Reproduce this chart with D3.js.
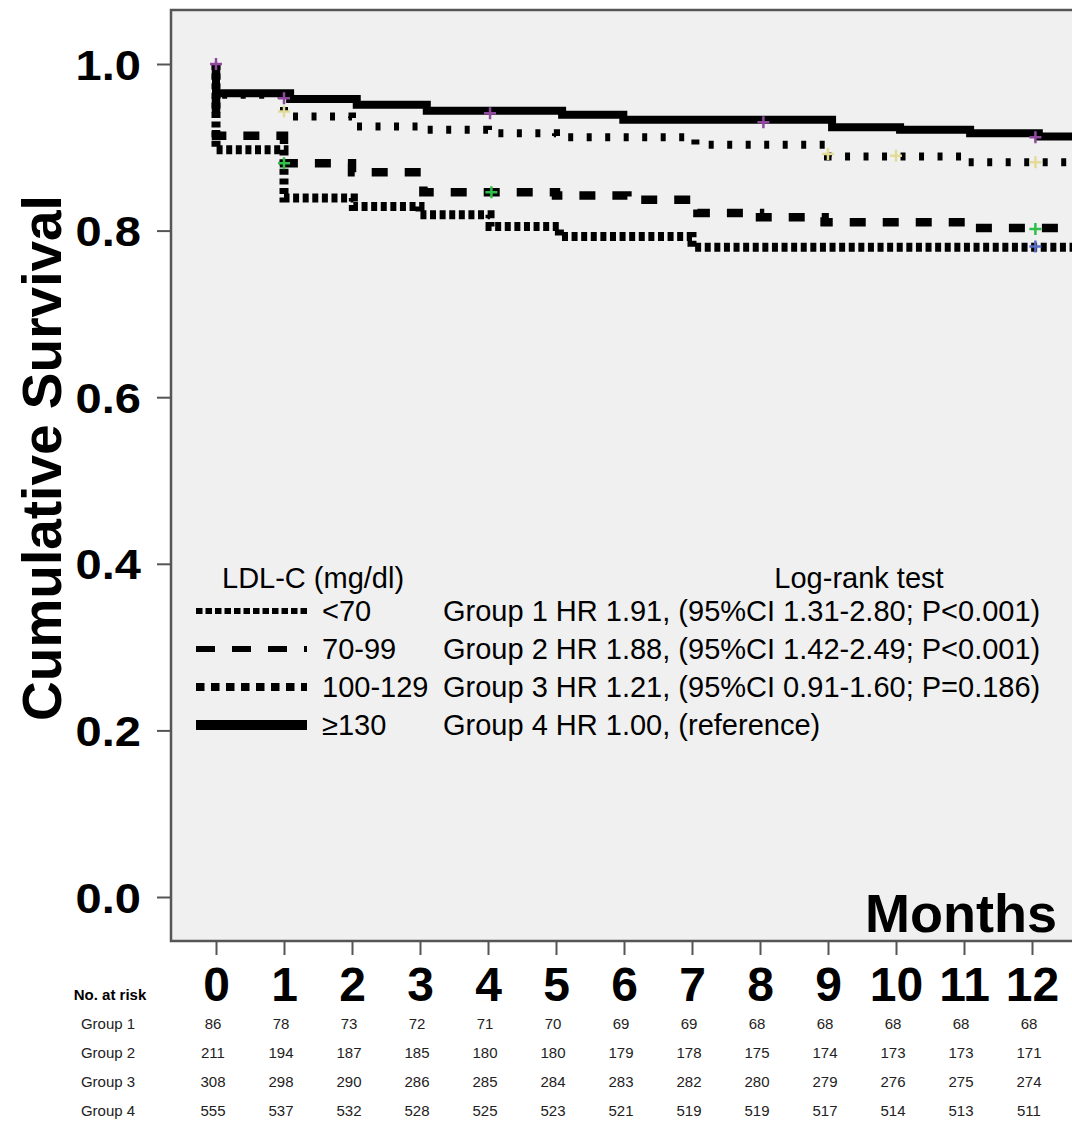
<!DOCTYPE html>
<html>
<head>
<meta charset="utf-8">
<script src="https://cdn.jsdelivr.net/npm/d3@7"></script>
<style>
body{margin:0;background:#fff}
text{font-family:"Liberation Sans",Arial,Helvetica,sans-serif}
</style>
</head>
<body>
<svg id="chart" width="1072" height="1124"></svg>
<script>
var months=[0,1,2,3,4,5,6,7,8,9,10,11,12]
var yTicks=[0,0.2,0.4,0.6,0.8,1.0]
var groupNames=["Group 1","Group 2","Group 3","Group 4"]
var ldlLabels=["<70","70-99","100-129","\u2265130"]
var hrTexts=["Group 1 HR 1.91, (95%CI 1.31-2.80; P<0.001)",
             "Group 2 HR 1.88, (95%CI 1.42-2.49; P<0.001)",
             "Group 3 HR 1.21, (95%CI 0.91-1.60; P=0.186)",
             "Group 4 HR 1.00, (reference)"]

// step times (months) and survival right after each step
var g1Times=[0,1.0,2.02,3.0,4.03,5.05,7.0]
var g1Surv=[0.897,0.839,0.829,0.819,0.805,0.793,0.780]
var g2Times=[0,1.0,2.0,3.05,5.0,6.05,7.08,8.0,8.95,11.05]
var g2Surv=[0.914,0.881,0.870,0.846,0.842,0.837,0.821,0.816,0.810,0.803]
var g3Times=[0,1.0,2.0,2.98,4.0,5.0,7.05,9.0,11.0]
var g3Surv=[0.963,0.937,0.925,0.921,0.917,0.912,0.903,0.889,0.882]
var g4Times=[0,1.09,2.07,3.1,5.09,5.99,9.06,10.06,11.09,12.1]
var g4Surv=[0.965,0.958,0.951,0.944,0.939,0.933,0.924,0.921,0.917,0.913]

// censor marks [month, survival]
var g1Cens=[[12.05,0.781]]
var g2Cens=[[1.0,0.881],[4.05,0.846],[12.05,0.802]]
var g3Cens=[[1.0,0.943],[9.0,0.892],[10.0,0.890],[12.05,0.882]]
var g4Cens=[[0,1.0],[1.0,0.959],[4.03,0.941],[8.05,0.930],[12.05,0.912]]

var atRisk1=[86,78,73,72,71,70,69,69,68,68,68,68,68]
var atRisk2=[211,194,187,185,180,180,179,178,175,174,173,173,171]
var atRisk3=[308,298,290,286,285,284,283,282,280,279,276,275,274]
var atRisk4=[555,537,532,528,525,523,521,519,519,517,514,513,511]

var tEnd=13

var lineStyle=[{w:9,dash:"6,3.6"},{w:8.5,dash:"16,17"},{w:8,dash:"5,13.5"},{w:8,dash:null}]
var legStyle=[{w:6,dash:"6.5,3"},{w:6,dash:"19,17"},{w:8,dash:"8.5,6.5"},{w:10,dash:null}]
var censColor=["#5a6cc4","#2fbf4a","#e2dc98","#8f4a9e"]

var svg=d3.select("#chart")
var x=d3.scaleLinear().domain([0,12]).range([216,1032])
var y=d3.scaleLinear().domain([0,1]).range([897,64])

// plot frame
svg.append("rect").attr("x",171).attr("y",10).attr("width",1000).attr("height",931)
    .attr("fill","#f0f0f0").attr("stroke","#555").attr("stroke-width",2.5)

// y axis
var yAxis=svg.append("g").attr("transform","translate(171,0)")
    .call(d3.axisLeft(y).tickValues(yTicks).tickSize(14).tickPadding(0).tickFormat(d3.format(".1f")))
yAxis.select(".domain").remove()
yAxis.selectAll(".tick line").attr("stroke","#555").attr("stroke-width",2)
yAxis.selectAll(".tick text")
    .attr("x",-30/1.12).attr("dy","0.36em")
    .attr("transform","scale(1.12,1)")
    .style("font-size","42px").style("font-weight","bold").attr("fill","#000")

// x axis
var xAxis=svg.append("g").attr("transform","translate(0,941)")
    .call(d3.axisBottom(x).tickValues(months).tickSize(14).tickPadding(12).tickFormat(d3.format("d")))
xAxis.select(".domain").remove()
xAxis.selectAll(".tick line").attr("stroke","#555").attr("stroke-width",2)
xAxis.selectAll(".tick text").style("font-size","48px").style("font-weight","bold").attr("fill","#000")

svg.append("text").attr("transform","translate(61,458) rotate(-90)")
    .attr("text-anchor","middle").style("font-size","55px").style("font-weight","bold")
    .text("Cumulative Survival")

svg.append("text").attr("x",1057).attr("y",932).attr("text-anchor","end")
    .style("font-size","54px").style("font-weight","bold").text("Months")

// curves
var groups=[[g1Times,g1Surv,g1Cens],[g2Times,g2Surv,g2Cens],[g3Times,g3Surv,g3Cens],[g4Times,g4Surv,g4Cens]]
var stepLine=d3.line().x(function(d){return x(d[0])}).y(function(d){return y(d[1])}).curve(d3.curveStepAfter)

for(i=0;i<groups.length;i++)
{
    var pts=[[0,1]]
    for(j=0;j<groups[i][0].length;j++)
    {
        pts.push([groups[i][0][j],groups[i][1][j]])
    }
    pts.push([tEnd,groups[i][1][groups[i][1].length-1]])
    var p=svg.append("path").datum(pts).attr("d",stepLine)
        .attr("fill","none").attr("stroke","#000").attr("stroke-width",lineStyle[i].w)
    if(lineStyle[i].dash) p.attr("stroke-dasharray",lineStyle[i].dash)
}

for(i=0;i<groups.length;i++)
{
    svg.selectAll(".c"+i).data(groups[i][2]).enter().append("path")
        .attr("class","c"+i)
        .attr("transform",function(d){return "translate("+x(d[0])+","+y(d[1])+")"})
        .attr("d","M-6,0H6M0,-6V6")
        .attr("stroke",censColor[i]).attr("stroke-width",2.5)
}

// legend
var legY=[611,649,687,725]
svg.append("text").attr("x",222).attr("y",588).style("font-size","29px").text("LDL-C (mg/dl)")
svg.append("text").attr("x",859).attr("y",588).attr("text-anchor","middle").style("font-size","29px").text("Log-rank test")
for(i=0;i<4;i++)
{
    var l=svg.append("line").attr("x1",196).attr("x2",307).attr("y1",legY[i]).attr("y2",legY[i])
        .attr("stroke","#000").attr("stroke-width",legStyle[i].w)
    if(legStyle[i].dash) l.attr("stroke-dasharray",legStyle[i].dash)
    svg.append("text").attr("x",322).attr("y",legY[i]+10).style("font-size","29px").text(ldlLabels[i])
    svg.append("text").attr("x",443).attr("y",legY[i]+10).style("font-size","29px").text(hrTexts[i])
}

// numbers at risk
var risk=[atRisk1,atRisk2,atRisk3,atRisk4]
var rowY=[1024,1053,1082,1111]
svg.append("text").attr("x",110).attr("y",1000).attr("text-anchor","middle")
    .style("font-size","15px").style("font-weight","bold").text("No. at risk")
for(i=0;i<4;i++)
{
    svg.append("text").attr("x",108).attr("y",rowY[i]+5).attr("text-anchor","middle")
        .style("font-size","15px").attr("fill","#222").text(groupNames[i])
    svg.selectAll(".r"+i).data(risk[i]).enter().append("text")
        .attr("class","r"+i)
        .attr("x",function(d,k){return x(months[k])-3})
        .attr("y",rowY[i]+5).attr("text-anchor","middle")
        .style("font-size","15px").attr("fill","#222")
        .text(function(d){return d})
}
</script>
</body>
</html>
